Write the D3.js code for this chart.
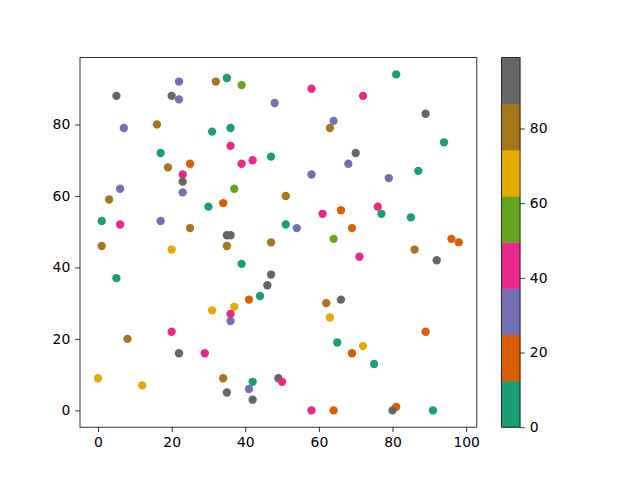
<!DOCTYPE html>
<html><head><meta charset="utf-8">
<script src="https://cdn.jsdelivr.net/npm/d3@7"></script>
<style>body{margin:0;background:#fff}svg{display:block}text{font-family:"DejaVu Sans",sans-serif}</style>
</head><body>
<svg id="c" width="640" height="480"></svg>
<script>
const xs = [22,32,5,20,22,7,16,31,17,19,25,23,23,23,6,3,30,1,6,17,25,1,35,39,58,48,64,63,36,36,47,39,42,68,58,37,51,34,61,66,51,54,69,35,36,64,47,35,81,72,89,94,70,79,87,76,77,85,96,98,86,20,5,31,20,8,22,29,0,12,39,47,46,44,41,37,36,36,62,66,63,65,69,34,35,42,41,42,49,50,58,64,71,92,89,72,75,81,80,91];
const ys = [92,92,88,88,87,79,80,78,72,68,69,66,64,61,62,59,57,53,52,53,51,46,93,91,90,86,81,79,79,74,71,69,70,69,66,62,60,58,55,56,52,51,51,49,49,48,47,46,94,88,83,75,72,65,67,57,55,54,48,47,45,45,37,28,22,20,16,16,9,7,41,38,35,32,31,29,25,27,30,31,26,19,16,9,5,8,6,3,9,8,0,0,43,42,22,18,13,1,0,0];
const cs = [31,80,93,93,31,31,80,6,6,80,18,43,93,31,31,80,6,6,43,31,80,80,6,56,43,31,31,80,6,43,6,43,43,31,31,56,80,18,43,18,6,31,18,93,93,56,80,80,6,43,93,6,93,31,6,43,6,6,18,18,80,68,6,68,43,80,93,43,68,68,6,93,93,6,18,68,31,43,80,93,68,6,18,80,93,6,31,93,93,43,43,18,43,93,18,68,6,18,93,6];
const xTicks = [0,20,40,60,80,100];
const yTicks = [0,20,40,60,80];
const cTicks = [0,20,40,60,80];
const palette = ["#1b9e77","#d95f02","#7570b3","#e7298a","#66a61e","#e6ab02","#a6761d","#666666"];
const cRange = [0,99];

const svg = d3.select("#c");
const L=80,R=476.8,T=57.6,B=427.2;
const pad = (e)=>{const d=(e[1]-e[0])*0.05;return [e[0]-d,e[1]+d];};
const x = d3.scaleLinear().domain(pad(d3.extent(xs))).range([L,R]);
const y = d3.scaleLinear().domain(pad(d3.extent(ys))).range([B,T]);
const col = d3.scaleQuantize().domain(cRange).range(palette);
const fs = "13.9px";

const pts = xs.map((v,i)=>({x:v,y:ys[i],c:cs[i]}));
svg.append("g").selectAll("circle").data(pts).join("circle")
  .attr("cx",d=>x(d.x)).attr("cy",d=>y(d.y)).attr("r",4.17)
  .attr("fill",d=>col(d.c));

svg.append("rect").attr("x",L).attr("y",T).attr("width",R-L).attr("height",B-T)
  .attr("fill","none").attr("stroke","#000").attr("stroke-width",0.8);

const gx = svg.append("g").attr("transform",`translate(0,${B})`)
  .call(d3.axisBottom(x).tickValues(xTicks).tickSize(4.86).tickPadding(4.86).tickFormat(d3.format("d")));
const gy = svg.append("g").attr("transform",`translate(${L},0)`)
  .call(d3.axisLeft(y).tickValues(yTicks).tickSize(4.86).tickPadding(4.86).tickFormat(d3.format("d")));
[gx,gy].forEach(g=>{g.select(".domain").remove();g.selectAll("line").attr("stroke-width",0.8);g.selectAll("text").attr("font-size",fs).attr("font-family","DejaVu Sans").attr("fill","#000");});

// colorbar
const cx0=501.6, cw=18.48;
const cy = d3.scaleLinear().domain(cRange).range([B,T]);
const bins = col.thresholds ? [cRange[0],...col.thresholds(),cRange[1]] : [];
svg.append("g").selectAll("rect").data(palette).join("rect")
  .attr("x",cx0).attr("width",cw)
  .attr("y",(d,i)=>cy(bins[i+1])).attr("height",(d,i)=>cy(bins[i])-cy(bins[i+1])+0.3)
  .attr("fill",d=>d);
svg.append("rect").attr("x",cx0).attr("y",T).attr("width",cw).attr("height",B-T)
  .attr("fill","none").attr("stroke","#000").attr("stroke-width",0.8);
const gc = svg.append("g").attr("transform",`translate(${cx0+cw},0)`)
  .call(d3.axisRight(cy).tickValues(cTicks).tickSize(4.86).tickPadding(4.86).tickFormat(d3.format("d")));
gc.select(".domain").remove();
gc.selectAll("line").attr("stroke-width",0.8);
gc.selectAll("text").attr("font-size",fs).attr("font-family","DejaVu Sans").attr("fill","#000");
</script>
</body></html>
